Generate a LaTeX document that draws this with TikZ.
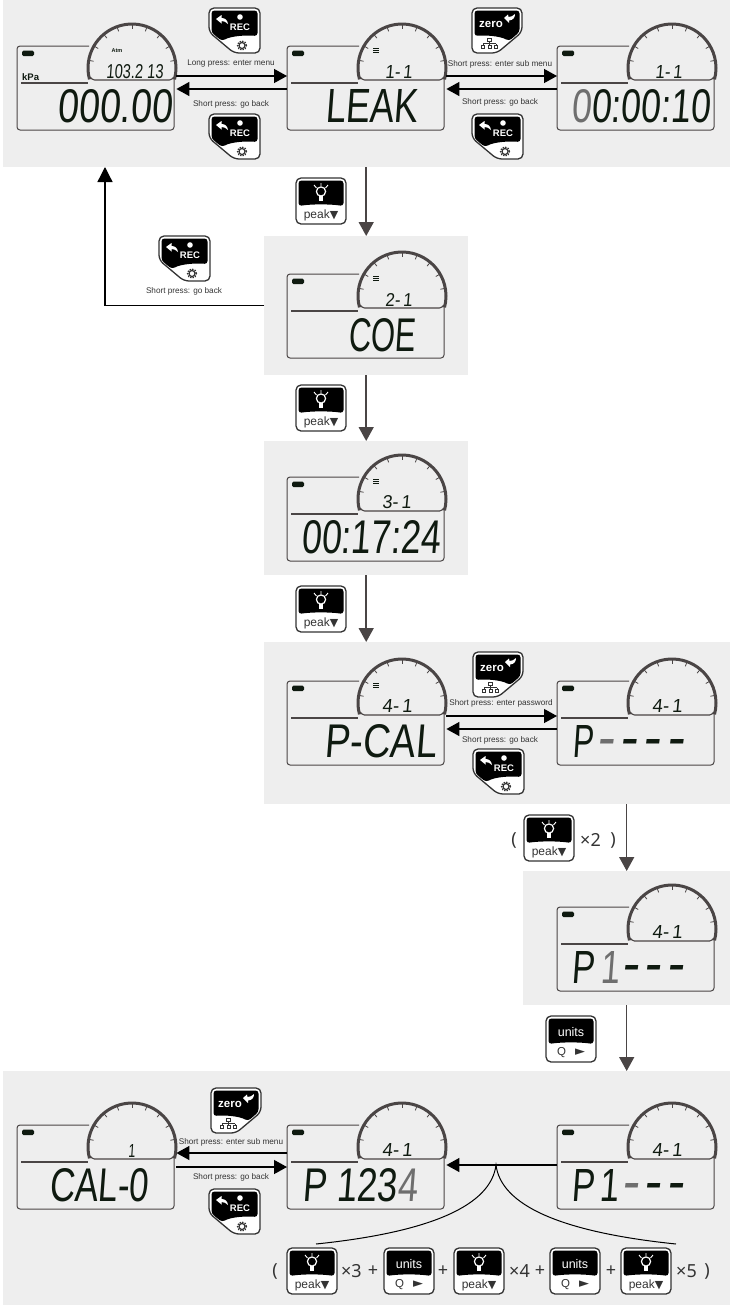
\documentclass[tikz,border=0pt]{standalone}
\usepackage{fontspec}
\usepackage{graphicx}
\usetikzlibrary{calc,arrows.meta}
\setmainfont{Liberation Sans}
\newfontfamily\notof{Noto Sans}
\newfontfamily\djv{DejaVu Sans}
\newfontfamily\lcdf{Liberation Sans}[FakeSlant=0.1]
\definecolor{pg}{HTML}{EEEEEE}
\definecolor{lk}{HTML}{0F1A10}
\definecolor{lg}{HTML}{6E6E6E}
\definecolor{ln}{HTML}{4A4545}
\definecolor{lb}{HTML}{333333}
\tikzset{
  x=1pt,y=-1pt,
  panel/.style={fill=pg,draw=none,anchor=north west,inner sep=0},
  lcdbox/.style={anchor=north west,inner sep=0,minimum width=157pt,minimum height=84pt},
  lab/.style={font=\fontsize{8.2}{9}\selectfont,text=lb,inner sep=0},
  fit0/.style={anchor=north west,inner sep=0,text=lk},
  flow/.style={draw=ln,line width=1.5pt,-{Triangle[length=14pt,width=15pt]}},
  hflow/.style={draw=black,line width=1.3pt,-{Triangle[length=13pt,width=14pt]}},
  bigt/.style={font=\notof\fontsize{18}{20}\selectfont,text=lb,inner sep=0},
  btnout/.style={draw=lb,line width=1.3pt,fill=white,rounded corners=5pt},
}
% LCD: name, x, y
\newcommand\lcd[3]{%
  \node[lcdbox] (#1) at (#2,#3) {};
  \begin{scope}[shift={(#2,#3)}]
    \draw[ln,line width=1pt,rounded corners=3pt] (72,0) -- (0,0) -- (0,84) -- (157,84) -- (157,32);
    \draw[ln,line width=3pt] ({115-42.5},{22+11.4}) arc[start angle=195,end angle=-15,radius=44pt];
    \foreach \a in {10,30,50,70,90,110,130,150,170}
      \draw[ln,line width=.8pt] ({115+43*cos(\a)},{22-43*sin(\a)}) -- ({115+39*cos(\a)},{22-39*sin(\a)});
    \draw[ln,line width=1.1pt,rounded corners=1.5pt] (73,31) -- (76,34) -- (154,34) -- (157,31);
    \draw[ln,line width=1.3pt] (4,37) -- (71,37);
    \fill[lk,rounded corners=1.5pt] (5,4.5) rectangle (17,10);
  \end{scope}
}
\newcommand\menuicon[1]{%
  \draw[lk,line width=.9pt] ($(#1.north west)+(86,2)$) -- ++(6,0) ++(-6,2) -- ++(6,0) ++(-6,2) -- ++(6,0);
}
% text fitted to a box: node name, lcd, dx, dy, w, h, text
\newcommand\lt[7]{%
  \node[fit0] (#1) at ($(#2.north west)+(#3,#4)$) {\resizebox{#5pt}{#6pt}{\lcdf #7}};
}
\newcommand\gr[1]{\textcolor{lg}{#1}}
\newcommand\dk{\kern.12em}
% Buttons: name x y
\newcommand\btnrec[3]{%
  \begin{scope}[shift={(#2,#3)}]
    \path[btnout] (0,0) -- (51,0) -- (51,45) -- (25,45) -- (0,24) -- cycle;
    \fill[black,rounded corners=3pt] (2.5,2.5) -- (48.5,2.5) -- (48.5,28) .. controls (36,27) and (22,28) .. (13,33) -- (2.5,24.5) -- cycle;
    \fill[white] (7,11) -- (12.5,7) -- (12.5,10) .. controls (16,10) and (18.5,12) .. (19,16) .. controls (17,14) and (15,13) .. (12.5,13) -- (12.5,15.5) -- cycle;
    \fill[white] (31,9) circle[radius=2.8pt];
    \node[inner sep=0,text=white,font=\bfseries\fontsize{9.5}{10}\selectfont] (#1-t) at (31,19.5) {REC};
    \draw[lb,line width=1.2pt] (33,37.5) circle[radius=3pt];
    \draw[lb,line width=1.4pt,dash pattern=on 1.4pt off 1.2pt] (33,37.5) circle[radius=4.4pt];
  \end{scope}
}
\newcommand\btnzero[3]{%
  \begin{scope}[shift={(#2,#3)}]
    \path[btnout] (0,0) -- (50,0) -- (50,24) -- (25,45) -- (0,45) -- cycle;
    \fill[black,rounded corners=3pt] (2.5,2.5) -- (47.5,2.5) -- (47.5,24) -- (37,33) .. controls (28,28) and (14,27) .. (2.5,28) -- cycle;
    \node[inner sep=0,text=white,font=\bfseries\fontsize{11.5}{12}\selectfont] (#1-t) at (19,16.5) {zero};
    \fill[white] (32,10) -- (36,6.5) -- (36.5,9) .. controls (39,9) and (41,8) .. (43,6) .. controls (43,10) and (41,12) .. (37,12.5) -- (37,15) -- cycle;
    \draw[lb,line width=.6pt] (15.5,30) rectangle (19.5,33.5) (17.5,33.5) -- (17.5,35.5) (11,35.5) -- (24,35.5) (11,35.5) -- (11,37) (17.5,35.5) -- (17.5,37) (24,35.5) -- (24,37)
      (9.5,37) rectangle (12.5,40.5) (16,37) rectangle (19,40.5) (22.5,37) rectangle (25.5,40.5);
  \end{scope}
}
\newcommand\btntop{%
  \path[btnout] (0,0) rectangle (50,46);
  \fill[black,rounded corners=3pt] (2.5,2.5) -- (47.5,2.5) -- (47.5,28) .. controls (34,26) and (16,26) .. (2.5,28) -- cycle;
}
\newcommand\btnpeak[3]{%
  \begin{scope}[shift={(#2,#3)}]
    \btntop
    \draw[white,line width=1.2pt] (25,13.5) circle[radius=4.6pt];
    \fill[white] (23,18) rectangle (27,23);
    \draw[white,line width=.9pt] (25,8) -- (25,5) (20.5,10) -- (18,7) (29.5,10) -- (32,7);
    \node[inner sep=0,text=lb,font=\fontsize{12}{13}\selectfont] (#1-t) at (25,37) {peak{\djv\fontsize{11}{11}\selectfont ▼}};
  \end{scope}
}
\newcommand\btnunits[3]{%
  \begin{scope}[shift={(#2,#3)}]
    \btntop
    \node[inner sep=0,text=white,font=\fontsize{12.5}{13}\selectfont] (#1-t) at (25,16) {units};
    \node[inner sep=0,text=lb,font=\fontsize{11.5}{12}\selectfont] (#1-q) at (15.5,36.5) {Q};
    \node[inner sep=0,text=lb,font=\djv\fontsize{13}{13}\selectfont] (#1-a) at (34,36.5) {►};
  \end{scope}
}
\begin{document}
\begin{tikzpicture}
\useasboundingbox (0,0) rectangle (730,1307);
% panels
\node[panel,minimum width=727pt,minimum height=167pt] (p1) at (3,0) {};
\node[panel,minimum width=204pt,minimum height=139pt] (p2) at (264,236) {};
\node[panel,minimum width=204pt,minimum height=134pt] (p3) at (264,441) {};
\node[panel,minimum width=466pt,minimum height=162pt] (p4) at (264,642) {};
\node[panel,minimum width=207pt,minimum height=134pt] (p5) at (523,871) {};
\node[panel,minimum width=727pt,minimum height=234pt] (p6) at (3,1071) {};
% LCDs
\lcd{a1}{17}{46}
\lcd{a2}{287}{46}\menuicon{a2}
\lcd{a3}{557}{46}
\lcd{b}{287}{274}\menuicon{b}
\lcd{c}{287}{477}\menuicon{c}
\lcd{d1}{287}{681}\menuicon{d1}
\lcd{d2}{557}{681}
\lcd{e}{557}{907}
\lcd{f1}{17}{1125}
\lcd{f2}{287}{1125}
\lcd{f3}{557}{1125}
% LCD texts
\node[inner sep=0,font=\bfseries\fontsize{5.5}{6}\selectfont,text=lk] (atm) at ($(a1.north west)+(100,5)$) {Atm};
\node[inner sep=0,anchor=west,font=\bfseries\fontsize{9.5}{10}\selectfont,text=lk] (kpa) at ($(a1.north west)+(5,31)$) {kPa};
\lt{s1}{a1}{89}{18}{57}{14}{103.2 13}
\lt{m1}{a1}{40}{43}{115}{33}{000.00}
\lt{s2}{a2}{98}{19}{27}{13}{1-\,1}
\lt{m2}{a2}{38}{43}{92}{33}{LEAK}
\lt{s3}{a3}{98}{19}{27}{13}{1-\,1}
\lt{m3}{a3}{14}{43}{139}{33}{\gr{0}0:00:10}
\lt{s4}{b}{98}{19}{27}{13}{2-\,1}
\lt{m4}{b}{61}{44}{67}{33}{COE}
\lt{s5}{c}{95}{18}{29}{13}{3-\,1}
\lt{m5}{c}{14}{43}{139}{33}{00:17:24}
\lt{s6}{d1}{95}{18}{30}{13}{4-\,1}
\lt{m6}{d1}{37}{43}{112}{33}{P-CAL}
\lt{s7}{d2}{95}{18}{30}{13}{4-\,1}
\lt{m7}{d2}{15}{44}{21}{32}{P}
\lt{h7}{d2}{40}{58}{87}{12}{\bfseries\gr{-}\dk-\dk-\dk-}
\lt{s8}{e}{95}{18}{30}{13}{4-\,1}
\lt{m8}{e}{14}{44}{48}{32}{P\,\gr{1}}
\lt{h8}{e}{65}{58}{62}{12}{\bfseries-\dk-\dk-}
\lt{s9}{f1}{111}{19}{7}{13}{1}
\lt{m9}{f1}{32}{43}{99}{33}{CAL-0}
\lt{s10}{f2}{95}{18}{30}{13}{4-\,1}
\lt{m10}{f2}{15}{43}{115}{33}{P 123\gr{4}}
\lt{s11}{f3}{95}{18}{30}{13}{4-\,1}
\lt{m11}{f3}{14}{44}{48}{32}{P\,1}
\lt{h11}{f3}{65}{58}{62}{12}{\bfseries\gr{-}\dk-\dk-}
% vertical flow
\draw[flow] (p1.south -| p2.north) -- (p2.north);
\draw[flow] (p2.south) -- (p3.north);
\draw[flow] (p3.south) -- (p3.south |- p4.north);
\draw[flow] (p5.north |- p4.south) -- (p5.north);
\draw[flow] (p5.south) -- (p5.south |- p6.north);
\coordinate (ret) at (105,167);
\draw[draw=black,line width=1.3pt,-{Triangle[length=15pt,width=15pt]}] (p2.west) -| (ret);
% horizontal flow
\draw[hflow] ($(a1.north east)+(2,30)$) -- ($(a2.north west)+(0,30)$);
\draw[hflow] ($(a2.north west)+(0,43)$) -- ($(a1.north east)+(2,43)$);
\draw[hflow] ($(a2.north east)+(2,30)$) -- ($(a3.north west)+(0,30)$);
\draw[hflow] ($(a3.north west)+(0,43)$) -- ($(a2.north east)+(2,43)$);
\draw[hflow] ($(d1.north east)+(2,35)$) -- ($(d2.north west)+(0,35)$);
\draw[hflow] ($(d2.north west)+(0,48)$) -- ($(d1.north east)+(2,48)$);
\draw[hflow] ($(f2.north west)+(0,28)$) -- ($(f1.north east)+(2,28)$);
\draw[hflow] ($(f1.north east)+(2,42)$) -- ($(f2.north west)+(0,42)$);
\draw[hflow] ($(f3.north west)+(0,40)$) -- ($(f2.north east)+(2,40)$);
\coordinate (j) at (496,1165);
\coordinate (cl) at (316,1244);
\coordinate (cr) at (676,1244);
\draw[black,line width=1pt] (cl) .. controls (432,1232) and (491,1205) .. (j) .. controls (501,1205) and (560,1232) .. (cr);
% labels
\node[lab] (l1) at (231,64) {Long press: enter menu};
\node[lab] (l2) at (231,104) {Short press: go back};
\node[lab] (l3) at (500,64) {Short press: enter sub menu};
\node[lab] (l4) at (500,102) {Short press: go back};
\node[lab] (l5) at (184,291) {Short press: go back};
\node[lab] (l6) at (501,703) {Short press: enter password};
\node[lab] (l7) at (500,740) {Short press: go back};
\node[lab] (l8) at (231,1142) {Short press: enter sub menu};
\node[lab] (l9) at (231,1177) {Short press: go back};
% buttons
\btnrec{r1}{209}{8}
\btnrec{r2}{209}{114}
\btnzero{z1}{472}{8}
\btnrec{r3}{472}{114}
\btnpeak{k1}{296}{178}
\btnrec{r4}{159}{236}
\btnpeak{k2}{296}{385}
\btnpeak{k3}{296}{586}
\btnzero{z2}{473}{652}
\btnrec{r5}{473}{749}
\btnpeak{k4}{524}{815}
\btnunits{u1}{546}{1016}
\btnzero{z3}{211}{1088}
\btnrec{r6}{209}{1189}
\btnpeak{k5}{287}{1248}
\btnunits{u2}{384}{1248}
\btnpeak{k6}{454}{1248}
\btnunits{u3}{550}{1248}
\btnpeak{k7}{621}{1248}
% multiplier texts
\node[bigt] (x1) at (514,840) {(};
\node[bigt,anchor=west] (x2) at (580,840) {×2};
\node[bigt] (x3) at (613,840) {)};
\node[bigt] (y1) at (275,1271) {(};
\node[bigt,anchor=west] (y2) at (341,1271) {×3};
\node[bigt] (y3) at (373,1271) {+};
\node[bigt] (y4) at (443,1271) {+};
\node[bigt,anchor=west] (y5) at (509,1271) {×4};
\node[bigt] (y6) at (540,1271) {+};
\node[bigt] (y7) at (611,1271) {+};
\node[bigt,anchor=west] (y8) at (676,1271) {×5};
\node[bigt] (y9) at (707,1271) {)};
\end{tikzpicture}
\end{document}
